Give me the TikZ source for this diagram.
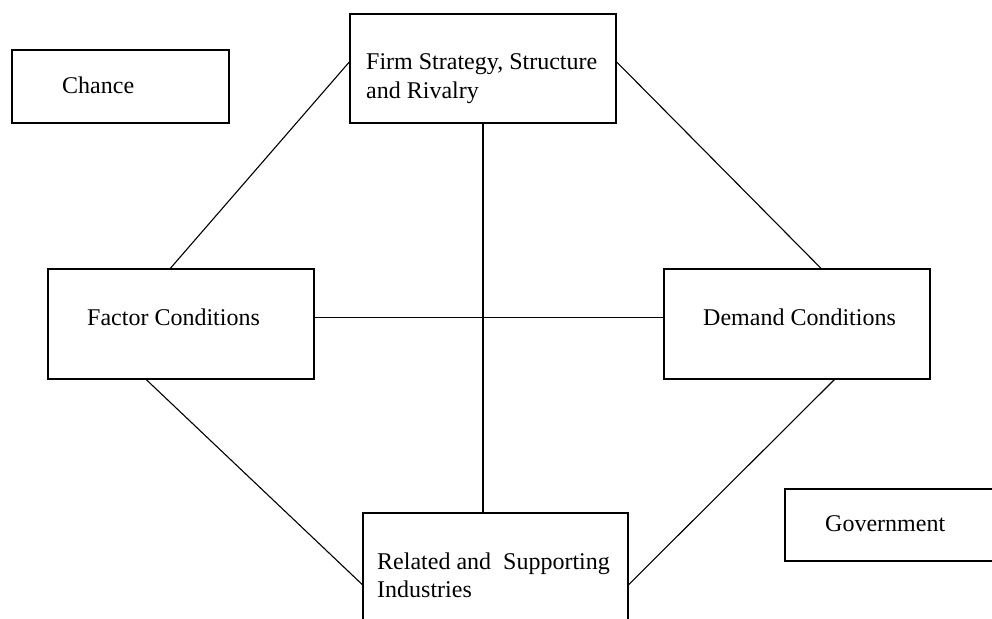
\documentclass[tikz,border=0pt]{standalone}
\usepackage{fontspec}
\setmainfont{Liberation Serif}
\usetikzlibrary{calc}
\tikzset{
  box/.style={draw,line width=1.2pt,inner sep=0pt},
  lbl/.style={anchor=base west,align=left,inner sep=0pt,font=\fontsize{24}{28.5}\selectfont},
  link/.style={line width=1.1pt},
}
\begin{document}
\begin{tikzpicture}[x=1pt,y=-1pt]
  \useasboundingbox (0,0) rectangle (992,618);
  \clip (0,0) rectangle (992,618);
  % boxes
  \node[box,minimum width=217pt,minimum height=73pt] (chance) at (120.5,86.5) {};
  \node[box,minimum width=266pt,minimum height=109pt] (firm) at (483,68.5) {};
  \node[box,minimum width=266pt,minimum height=110pt] (factor) at (181,324) {};
  \node[box,minimum width=266pt,minimum height=110pt] (demand) at (797,324) {};
  \node[box,minimum width=265pt,minimum height=110pt] (related) at (495.5,568) {};
  \node[box,minimum width=220pt,minimum height=72pt] (govt) at (895,525) {};
  % texts (base = last line)
  \node[lbl] (chance-t) at (62,93) {Chance};
  \node[lbl] (firm-t) at (366,98.5) {Firm Strategy, Structure\\and Rivalry};
  \node[lbl] (factor-t) at (87,325) {Factor Conditions};
  \node[lbl] (demand-t) at (703,325) {Demand Conditions};
  \node[lbl] (related-t) at (377,597.5) {Related and\ \ Supporting\\Industries};
  \node[lbl] (govt-t) at (825,531) {Government};
  % links
  \draw[link] ($(firm.north west)!0.44!(firm.south west)$) -- ($(factor.north west)!0.46!(factor.north east)$);
  \draw[link] ($(firm.north east)!0.44!(firm.south east)$) -- ($(demand.north west)!0.59!(demand.north east)$);
  \draw[link] ($(factor.south west)!0.37!(factor.south east)$) -- ($(related.north west)!0.65!(related.south west)$);
  \draw[link] ($(demand.south west)!0.64!(demand.south east)$) -- ($(related.north east)!0.65!(related.south east)$);
  \draw[link] (firm.south) -- (firm.south |- related.north);
  \draw[link] ($(factor.north east)!0.44!(factor.south east)$) -- ($(demand.north west)!0.44!(demand.south west)$);
\end{tikzpicture}
\end{document}
